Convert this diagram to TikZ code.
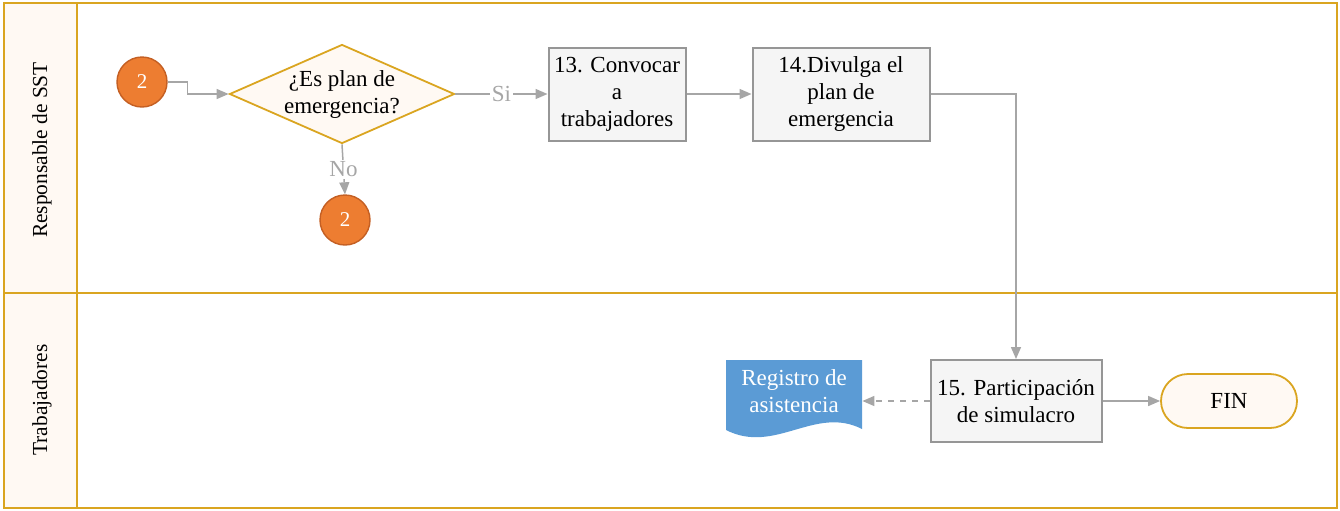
\documentclass[tikz,border=0pt]{standalone}
\usepackage{fontspec}
\setmainfont{Liberation Serif}
\usetikzlibrary{shapes.geometric,arrows.meta}

\definecolor{lanegold}{RGB}{218,165,32}
\definecolor{lanecream}{RGB}{255,249,243}
\definecolor{connorange}{RGB}{237,125,49}
\definecolor{connedge}{RGB}{196,95,35}
\definecolor{linegray}{RGB}{166,166,166}
\definecolor{boxgray}{RGB}{245,245,245}
\definecolor{boxedge}{RGB}{150,150,150}
\definecolor{docblue}{RGB}{91,155,213}

\tikzset{
	lane/.style = {draw=lanegold, line width=1.2pt},
	conn/.style = {circle, fill=connorange, draw=connedge, line width=0.7pt,
		minimum size=25pt, inner sep=0pt, text=white, font=\fontsize{10.5}{12}\selectfont},
	decision/.style = {diamond, fill=lanecream, draw=lanegold, line width=0.9pt,
		minimum width=112.5pt, minimum height=49.5pt, aspect=2.27, inner sep=0pt,
		align=center, font=\fontsize{11.5}{13.5}\selectfont},
	process/.style = {rectangle, fill=boxgray, draw=boxedge, line width=1pt,
		minimum height=46.5pt, inner sep=1pt, align=center,
		font=\fontsize{11.5}{13.5}\selectfont},
	terminal/.style = {rectangle, rounded corners=13.5pt, fill=lanecream, draw=lanegold,
		line width=0.9pt, minimum width=68pt, minimum height=27pt,
		font=\fontsize{11.5}{13.5}\selectfont},
	doctext/.style = {minimum width=68pt, minimum height=30pt, inner sep=0pt,
		align=center, text=white, font=\fontsize{11.5}{13.5}\selectfont},
	flow/.style = {draw=linegray, line width=0.75pt, -{Triangle[length=6pt,width=5pt]}},
	flowlabel/.style = {fill=white, inner sep=1pt, text=linegray,
		font=\fontsize{11.5}{13.5}\selectfont},
}

\begin{document}
\begin{tikzpicture}[x=0.5pt, y=-0.5pt]
	\useasboundingbox (0,0) rectangle (1340,510);

	% Lanes
	\fill[lanecream] (4,3) rectangle (77,508);
	\draw[lane] (4,3) rectangle (1337,508);
	\draw[lane] (77,3) -- (77,508);
	\draw[lane] (4,293) -- (1337,293);
	\node[rotate=90, font=\fontsize{10.7}{13.5}\selectfont] (lane1) at (42,150) {Responsable de SST};
	\node[rotate=90, font=\fontsize{10.7}{13.5}\selectfont] (lane2) at (42,400) {Trabajadores};

	% Responsable de SST
	\node[conn] (c1) at (142,82) {2};
	\node[decision] (dia) at (342,94) {¿Es plan de\\emergencia?};
	\node[conn] (c2) at (345,220) {2};
	\node[process, minimum width=68.5pt] (p13) at (617,94) {13. Convocar\\a\\trabajadores};
	\node[process, minimum width=88.5pt] (p14) at (841,94) {14.Divulga el\\plan de\\emergencia};

	% Trabajadores
	\node[process, minimum width=85.5pt, minimum height=41pt] (p15) at (1016,401)
		{15. Participación\\de simulacro};
	\node[terminal] (fin) at (1229,401) {FIN};
	\fill[docblue] (726,360) -- (862,360) -- (862,429)
		.. controls (815,405) and (775,455) .. (726,430) -- cycle;
	\node[doctext] (reg) at (794,391) {Registro de\\asistencia};

	% Connectors
	\draw[flow] (c1.east) -- ++(20,0) |- (dia.west);
	\draw[flow] (dia.east) -- node[flowlabel] {Si} (p13.west);
	\draw[flow] (dia.south) -- node[flowlabel] {No} (c2.north);
	\draw[flow] (p13.east) -- (p14.west);
	\draw[flow] (p14.east) -| (p15.north);
	\draw[flow] (p15.east) -- (fin.west);
	\draw[flow, dashed] (p15.west) -- (p15.west -| reg.east);
\end{tikzpicture}
\end{document}
